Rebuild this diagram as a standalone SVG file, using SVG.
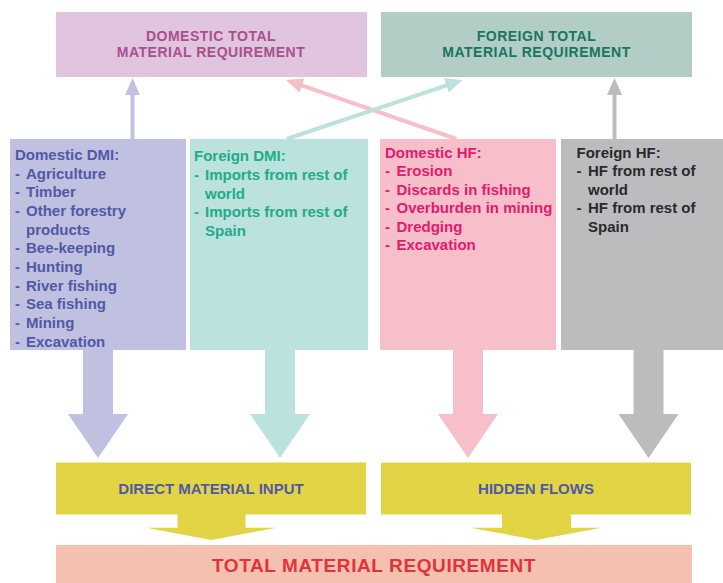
<svg xmlns="http://www.w3.org/2000/svg" width="723" height="583" viewBox="0 0 723 583">
  <style>
    text { font-family: "Liberation Sans", Arial, sans-serif; font-weight: bold; }
    .title { font-size: 15px; text-anchor: middle; }
    .head { font-size: 14px; text-anchor: middle; letter-spacing: 0.5px; }
    .list { font-size: 15px; }
    .dtmr-box { fill: #e1c4dd; }
    .ftmr-box { fill: #b2cdc6; }
    .ddmi { fill: #c0c0e0; }
    .fdmi { fill: #bbe2dc; }
    .dhf { fill: #f7bfc9; }
    .fhf { fill: #bcbcbf; }
    .sum { fill: #e2d445; }
    .tmr-box { fill: #f4c1b1; }
    .link { fill: none; stroke-width: 4; }
  </style>
  <defs>
    <marker id="head-lav" viewBox="0 0 17 15" refX="5" refY="7.5" markerWidth="17" markerHeight="15" markerUnits="userSpaceOnUse" orient="auto">
      <path d="M0,0 L17,7.5 L0,15 z" fill="#c0c0e0"/>
    </marker>
    <marker id="head-teal" viewBox="0 0 17 15" refX="5" refY="7.5" markerWidth="17" markerHeight="15" markerUnits="userSpaceOnUse" orient="auto">
      <path d="M0,0 L17,7.5 L0,15 z" fill="#bbe2dc"/>
    </marker>
    <marker id="head-pink" viewBox="0 0 17 15" refX="5" refY="7.5" markerWidth="17" markerHeight="15" markerUnits="userSpaceOnUse" orient="auto">
      <path d="M0,0 L17,7.5 L0,15 z" fill="#f7bfc9"/>
    </marker>
    <marker id="head-grey" viewBox="0 0 17 15" refX="5" refY="7.5" markerWidth="17" markerHeight="15" markerUnits="userSpaceOnUse" orient="auto">
      <path d="M0,0 L17,7.5 L0,15 z" fill="#bcbcbf"/>
    </marker>
  </defs>

  <rect width="723" height="583" fill="#ffffff"/>

  <!-- top totals -->
  <g id="domestic-tmr">
    <rect class="dtmr-box" x="56" y="12" width="311" height="65"/>
    <text class="head" x="211" y="41" fill="#a8508e">DOMESTIC TOTAL</text>
    <text class="head" x="211" y="57" fill="#a8508e">MATERIAL REQUIREMENT</text>
  </g>
  <g id="foreign-tmr">
    <rect class="ftmr-box" x="381" y="12" width="311" height="65"/>
    <text class="head" x="536.5" y="41" fill="#187560">FOREIGN TOTAL</text>
    <text class="head" x="536.5" y="57" fill="#187560">MATERIAL REQUIREMENT</text>
  </g>

  <!-- source columns -->
  <g id="domestic-dmi">
    <rect class="ddmi" x="10" y="139" width="176" height="211"/>
    <g class="list" fill="#5059a6">
      <text x="15" y="160">Domestic DMI:</text>
      <text y="178.7"><tspan x="15">-</tspan><tspan x="26">Agriculture</tspan></text>
      <text y="197.3"><tspan x="15">-</tspan><tspan x="26">Timber</tspan></text>
      <text y="216"><tspan x="15">-</tspan><tspan x="26">Other forestry</tspan></text>
      <text y="234.6"><tspan x="26">products</tspan></text>
      <text y="253.3"><tspan x="15">-</tspan><tspan x="26">Bee-keeping</tspan></text>
      <text y="271.9"><tspan x="15">-</tspan><tspan x="26">Hunting</tspan></text>
      <text y="290.6"><tspan x="15">-</tspan><tspan x="26">River fishing</tspan></text>
      <text y="309.2"><tspan x="15">-</tspan><tspan x="26">Sea fishing</tspan></text>
      <text y="327.9"><tspan x="15">-</tspan><tspan x="26">Mining</tspan></text>
      <text y="346.5"><tspan x="15">-</tspan><tspan x="26">Excavation</tspan></text>
    </g>
  </g>
  <g id="foreign-dmi">
    <rect class="fdmi" x="190" y="139" width="178" height="211"/>
    <g class="list" fill="#1fab8c">
      <text x="194" y="161">Foreign DMI:</text>
      <text y="180"><tspan x="194">-</tspan><tspan x="205">Imports from rest of</tspan></text>
      <text y="198.5"><tspan x="205">world</tspan></text>
      <text y="217"><tspan x="194">-</tspan><tspan x="205">Imports from rest of</tspan></text>
      <text y="235.5"><tspan x="205">Spain</tspan></text>
    </g>
  </g>
  <g id="domestic-hf">
    <rect class="dhf" x="380" y="139" width="176" height="211"/>
    <g class="list" fill="#e6186f">
      <text x="385" y="157.7">Domestic HF:</text>
      <text y="176"><tspan x="385">-</tspan><tspan x="396.5">Erosion</tspan></text>
      <text y="194.5"><tspan x="385">-</tspan><tspan x="396.5">Discards in fishing</tspan></text>
      <text y="213.2"><tspan x="385">-</tspan><tspan x="396.5">Overburden in mining</tspan></text>
      <text y="231.8"><tspan x="385">-</tspan><tspan x="396.5">Dredging</tspan></text>
      <text y="250.3"><tspan x="385">-</tspan><tspan x="396.5">Excavation</tspan></text>
    </g>
  </g>
  <g id="foreign-hf">
    <rect class="fhf" x="561" y="139" width="162" height="211"/>
    <g class="list" fill="#2a2a2a">
      <text x="576.5" y="157.7">Foreign HF:</text>
      <text y="176"><tspan x="576.5">-</tspan><tspan x="588">HF from rest of</tspan></text>
      <text y="194.5"><tspan x="588">world</tspan></text>
      <text y="213.2"><tspan x="576.5">-</tspan><tspan x="588">HF from rest of</tspan></text>
      <text y="231.8"><tspan x="588">Spain</tspan></text>
    </g>
  </g>

  <!-- aggregates -->
  <g id="direct-material-input">
    <rect class="sum" x="56" y="462.5" width="310" height="52"/>
    <text class="title" x="211" y="494" fill="#5159a4">DIRECT MATERIAL INPUT</text>
  </g>
  <g id="hidden-flows">
    <rect class="sum" x="381" y="462.5" width="310" height="52"/>
    <text class="title" x="536" y="494" fill="#5159a4">HIDDEN FLOWS</text>
  </g>
  <g id="total-material-requirement">
    <rect class="tmr-box" x="56" y="545" width="636" height="38"/>
    <text x="374" y="572.3" text-anchor="middle" font-size="19" letter-spacing="0.6" fill="#e2333b">TOTAL MATERIAL REQUIREMENT</text>
  </g>

  <!-- connectors -->
  <g id="connectors">
    <line class="link" x1="132.5" y1="139" x2="132.5" y2="90" stroke="#c0c0e0" marker-end="url(#head-lav)"/>
    <line class="link" x1="614.5" y1="139" x2="614.5" y2="90" stroke="#bcbcbf" marker-end="url(#head-grey)"/>
    <line class="link" x1="456.5" y1="139" x2="297.3" y2="83.9" stroke="#f7bfc9" marker-end="url(#head-pink)"/>
    <line class="link" x1="286.5" y1="139" x2="451.1" y2="83.8" stroke="#bbe2dc" marker-end="url(#head-teal)"/>

    <polygon class="ddmi" points="83,349 113,349 113,414 128,414 98,458 68,414 83,414"/>
    <polygon class="fdmi" points="265,349 295,349 295,414 310,414 280,458 250,414 265,414"/>
    <polygon class="dhf" points="453,349 483,349 483,414 498,414 468,458 438,414 453,414"/>
    <polygon class="fhf" points="633.5,349 663.5,349 663.5,414 678.5,414 648.5,458 618.5,414 633.5,414"/>

    <polygon class="sum" points="177.5,514 245.5,514 245.5,527.7 276.5,527.7 211,540 146.5,527.7 177.5,527.7"/>
    <polygon class="sum" points="502,514 571,514 571,527.7 601.5,527.7 536,540 470.5,527.7 502,527.7"/>
  </g>
</svg>
